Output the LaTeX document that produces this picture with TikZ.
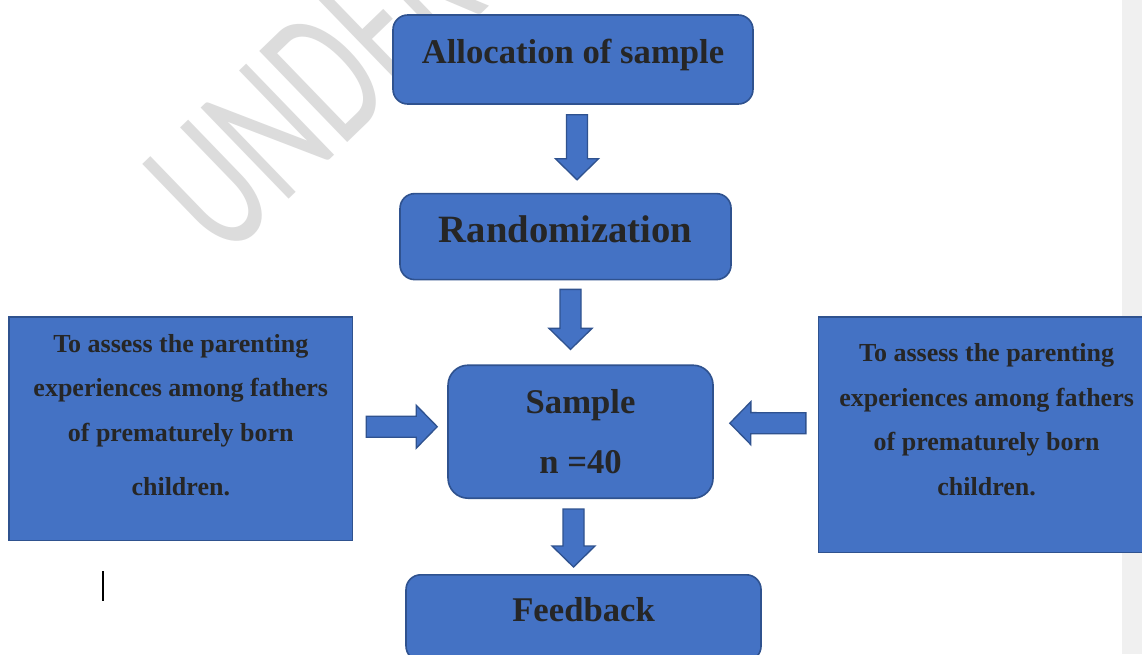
\documentclass[tikz,border=0pt]{standalone}
\usepackage{fontspec}
\setmainfont{Liberation Serif}
\newfontfamily\wmfont{Carlito}
\usetikzlibrary{calc, positioning}
\definecolor{boxblue}{HTML}{4472C4}
\definecolor{boxline}{HTML}{2F528F}
\definecolor{inktext}{HTML}{262626}
\definecolor{wmgray}{HTML}{DCDCDC}
\definecolor{sidegray}{HTML}{F0F0F0}
\tikzset{
  box/.style={
    rectangle, rounded corners=11pt, draw=boxline, fill=boxblue,
    line width=1.2pt, text=inktext, inner sep=0pt, align=center,
    font=\bfseries\fontsize{26}{30}\selectfont
  },
  aimbox/.style={
    rectangle, draw=boxline, fill=boxblue, line width=1.2pt, inner sep=0pt
  },
  aimtext/.style={
    align=center, text=inktext, inner sep=0pt,
    font=\bfseries\fontsize{19.5}{33.4}\selectfont
  },
  blockarrow/.style={
    draw=boxline, fill=boxblue, line width=1pt,
    to path={
      let \p1=(\tikztostart), \p2=(\tikztotarget),
          \n1={atan2(\y2-\y1,\x2-\x1)}, \n2={veclen(\x2-\x1,\y2-\y1)} in
      ([shift={(\p1)}, rotate=\n1]0pt,7.9pt)
      -- ([shift={(\p1)}, rotate=\n1]\n2-15.75pt,7.9pt)
      -- ([shift={(\p1)}, rotate=\n1]\n2-15.75pt,16.1pt)
      -- ([shift={(\p1)}, rotate=\n1]\n2,0pt)
      -- ([shift={(\p1)}, rotate=\n1]\n2-15.75pt,-16.1pt)
      -- ([shift={(\p1)}, rotate=\n1]\n2-15.75pt,-7.9pt)
      -- ([shift={(\p1)}, rotate=\n1]0pt,-7.9pt) -- cycle
    }
  }
}

\begin{document}
\begin{tikzpicture}[x=0.75pt, y=-0.75pt]
\useasboundingbox (0,0) rectangle (1142,654);
\fill[white] (0,0) rectangle (1142,654);
\fill[sidegray] (1122,0) rectangle (1142,654);

% watermark
\node[text=wmgray, font=\wmfont\fontsize{148}{150}\selectfont, inner sep=0pt,
      anchor=base west, rotate=44, xscale=0.64] (wmark) at (224,262) {UNDER};

% flow column
\node[box, minimum width=270pt, minimum height=66.75pt,
      text height=18pt, text depth=12.75pt] (alloc) at (573,59.5) {Allocation of sample};
\node[box, minimum width=248.25pt, minimum height=64.5pt,
      font=\bfseries\fontsize{29}{32}\selectfont, text height=20pt, text depth=11pt,
      below=66pt of alloc, xshift=-5.6pt] (rand) {Randomization};
\node[box, rounded corners=15pt, minimum width=198.75pt, minimum height=99.75pt,
      font=\bfseries\fontsize{26}{45}\selectfont,
      below=63pt of rand, xshift=11.25pt] (sample) {Sample\\n =40};
\node[box, minimum width=266.25pt, minimum height=64.5pt,
      text height=19pt, text depth=13pt,
      below=56.25pt of sample, xshift=2.25pt] (feedback) {Feedback};

% side boxes
\node[aimbox, minimum width=257.5pt, minimum height=167.5pt,
      left=70.5pt of sample, yshift=2.25pt] (leftbox) {};
\node[aimtext, yshift=10.4pt] (lefttext) at (leftbox.center)
  {To assess the parenting\\experiences among fathers\\of prematurely born\\[7pt]children.};
\node[aimbox, minimum width=252pt, minimum height=176.5pt,
      right=78pt of sample, yshift=-2.25pt] (rightbox) {};
\node[aimtext, yshift=11.3pt] (righttext) at (rightbox.center)
  {To assess the parenting\\experiences among fathers\\of prematurely born\\children.};

% arrows
\draw[blockarrow] ([xshift=3pt, yshift=-7.5pt]alloc.south) to ([xshift=8.6pt, yshift=9.75pt]rand.north);
\draw[blockarrow] ([xshift=3.75pt, yshift=-6.75pt]rand.south) to ([xshift=-7.5pt, yshift=11.25pt]sample.north);
\draw[blockarrow] ([xshift=-5.25pt, yshift=-7.5pt]sample.south) to ([xshift=-7.5pt, yshift=5.25pt]feedback.north);
\draw[blockarrow] ([xshift=9.75pt, yshift=1.5pt]leftbox.east) to ([xshift=-7.5pt, yshift=3.75pt]sample.west);
\draw[blockarrow] ([xshift=-9pt, yshift=8.6pt]rightbox.west) to ([xshift=12pt, yshift=6.4pt]sample.east);

% text cursor
\draw[line width=1.5pt] (102.5,571) -- (102.5,601);
\end{tikzpicture}
\end{document}
